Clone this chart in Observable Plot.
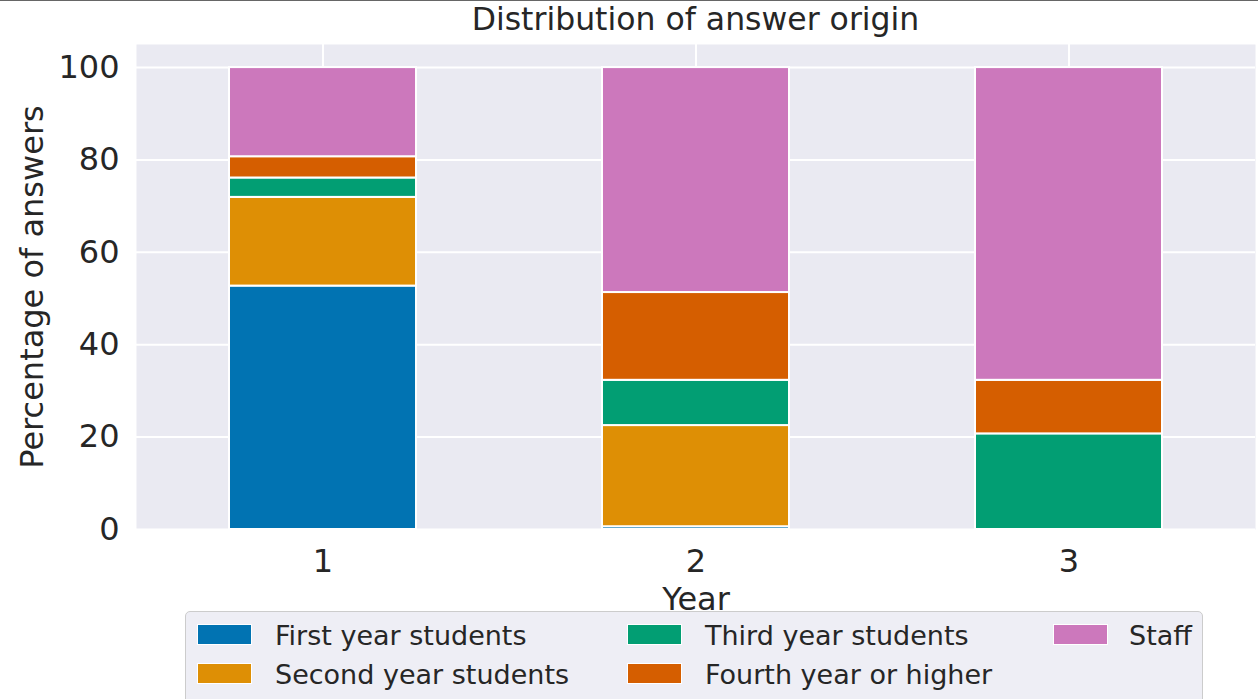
<!DOCTYPE html>
<html>
<head>
<meta charset="utf-8">
<script src="https://cdn.jsdelivr.net/npm/d3@7"></script>
<script src="https://cdn.jsdelivr.net/npm/@observablehq/plot@0.6"></script>
<style>
  html, body { margin: 0; padding: 0; background: white; }
  #wrap { position: relative; width: 1258px; height: 699px; overflow: hidden; font-family: "DejaVu Sans", sans-serif; color: #262626; }
  #topline { position: absolute; left: 0; top: 0; width: 1258px; height: 1px; background: #666; }
  #title { position: absolute; left: 136px; width: 1119px; top: 4px; text-align: center; font-size: 31.5px; line-height: 31px; }
  #legend { position: absolute; left: 185px; top: 611px; width: 1018px; height: 120px; background: #EEEEF5; border: 1.5px solid #CCCCCC; border-radius: 5px; box-sizing: border-box; }
  .sw { position: absolute; width: 55px; height: 21px; box-sizing: border-box; border: 1.5px solid white; }
  .lt { position: absolute; font-size: 27px; line-height: 27px; white-space: nowrap; }
</style>
</head>
<body>
<div id="wrap">
  <div id="chart"></div>
  <div id="topline"></div>
  <div id="title">Distribution of answer origin</div>
  <div id="legend"></div>
</div>
<script>
const years = ["1", "2", "3"];
const series = ["First year students", "Second year students", "Third year students", "Fourth year or higher", "Staff"];
const firstYear  = [52.7, 0.6, 0];
const secondYear = [19.2, 21.9, 0];
const thirdYear  = [4.2, 9.8, 20.7];
const fourthYear = [4.6, 19.0, 11.6];
const staff      = [19.3, 48.7, 67.7];
const colors = ["#0173B2", "#DE8F05", "#029E73", "#D55E00", "#CC78BC"];
const yTicks = [0, 20, 40, 60, 80, 100];

const values = [firstYear, secondYear, thirdYear, fourthYear, staff];
const data = years.flatMap((y, i) => series.map((s, j) => ({year: y, group: s, value: values[j][i]})));

const chart = Plot.plot({
  width: 1258,
  height: 699,
  marginLeft: 136,
  marginRight: 3,
  marginTop: 44,
  marginBottom: 170,
  style: {fontFamily: "DejaVu Sans, sans-serif", fontSize: "32px", color: "#262626", background: "transparent"},
  x: {domain: years, paddingInner: 0.5, paddingOuter: 0.25},
  y: {domain: [0, 105]},
  color: {domain: series, range: colors},
  marks: [
    Plot.frame({fill: "#EAEAF2", stroke: null}),
    Plot.gridY(yTicks, {stroke: "white", strokeOpacity: 1, strokeWidth: 2}),
    Plot.gridX({stroke: "white", strokeOpacity: 1, strokeWidth: 2}),
    Plot.barY(data, {x: "year", y: "value", fill: "group", stroke: "white", strokeWidth: 2}),
    Plot.axisY(yTicks, {tickSize: 0, tickPadding: 17, fontSize: 32, label: "Percentage of answers", labelAnchor: "center", labelArrow: false, labelOffset: 116, fill: "#262626"}),
    Plot.axisX({tickSize: 0, tickPadding: 20, fontSize: 32, label: "Year", labelAnchor: "center", labelArrow: false, labelOffset: 80, fill: "#262626"})
  ]
});
document.getElementById("chart").appendChild(chart);

const legend = document.getElementById("legend");
const cols = [[11, 89], [441, 519], [867, 943]];
const rows = [24, 63];
series.forEach((s, i) => {
  const c = cols[Math.floor(i / 2)];
  const r = rows[i % 2];
  const sw = document.createElement("div");
  sw.className = "sw";
  sw.style.left = c[0] + "px";
  sw.style.top = (r - 12) + "px";
  sw.style.background = colors[i];
  legend.appendChild(sw);
  const t = document.createElement("div");
  t.className = "lt";
  t.style.left = c[1] + "px";
  t.style.top = (r - 14) + "px";
  t.textContent = s;
  legend.appendChild(t);
});
</script>
</body>
</html>
